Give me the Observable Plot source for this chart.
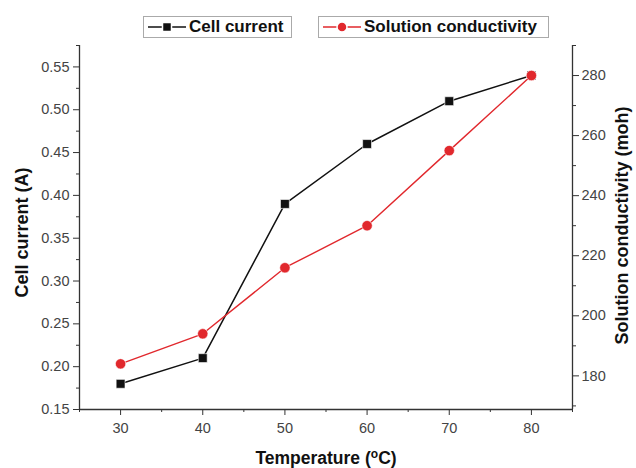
<!DOCTYPE html>
<html>
<head>
<meta charset="utf-8">
<script src="https://cdn.jsdelivr.net/npm/d3@7"></script>
<script src="https://cdn.jsdelivr.net/npm/@observablehq/plot@0.6"></script>
<style>
  body { margin: 0; background: #fff; font-family: "Liberation Sans", Arial, sans-serif; }
  #wrap { width: 636px; }
  #legend { position: relative; width: 636px; height: 42px; }
  .lg { position: absolute; top: 16px; height: 22px; border: 1px solid #aaa; background: #fff;
        display: flex; align-items: center; box-sizing: border-box; font-weight: bold; font-size: 17px; color: #111; }
  .lg svg { margin: 0 3px 0 4px; }
</style>
</head>
<body>
<div id="wrap">
  <div id="legend"></div>
  <div id="chart"></div>
</div>
<script>
// ---- data ----
const temperature = [30, 40, 50, 60, 70, 80];
const cellCurrent = [0.18, 0.21, 0.39, 0.46, 0.51, 0.54];
const conductivity = [184, 194, 216, 230, 255, 280];

const xTicks = [30, 40, 50, 60, 70, 80];
const xMinorTicks = [25, 35, 45, 55, 65, 75, 85];
const leftTicks = [0.15, 0.20, 0.25, 0.30, 0.35, 0.40, 0.45, 0.50, 0.55];
const leftMinorTicks = [0.175, 0.225, 0.275, 0.325, 0.375, 0.425, 0.475, 0.525, 0.575];
const rightTicks = [180, 200, 220, 240, 260, 280];
const rightMinorTicks = [170, 190, 210, 230, 250, 270, 290];

const seriesNames = ["Cell current", "Solution conductivity"];
const xTitle = "Temperature (oC)";
const leftTitle = "Cell current (A)";
const rightTitle = "Solution conductivity (moh)";

// ---- scales ----
const xDomain = [25, 85];
const leftDomain = [0.15, 0.575];
const rightDomain = [168.8, 290];
const toLeft = d3.scaleLinear(rightDomain, leftDomain);

const black = "#111111";
const red = "#e1282d";
const axisColor = "#333333";
const tickText = "#444444";

const currentData = temperature.map((t, i) => ({t, v: cellCurrent[i]}));
const condData = temperature.map((t, i) => ({t, v: toLeft(conductivity[i])}));

const fontFamily = "'Liberation Sans', Arial, sans-serif";

const chart = Plot.plot({
  width: 636,
  height: 426,
  marginLeft: 79,
  marginRight: 64,
  marginTop: 3,
  marginBottom: 59,
  x: {domain: xDomain, axis: null},
  y: {domain: leftDomain, axis: null},
  style: {fontFamily, background: "white", overflow: "visible"},
  marks: [
    // axis lines
    Plot.ruleY([leftDomain[0]], {stroke: axisColor, strokeWidth: 1.3}),
    Plot.ruleX([xDomain[0]], {stroke: axisColor, strokeWidth: 1.3}),
    Plot.ruleX([xDomain[1]], {stroke: axisColor, strokeWidth: 1.3}),
    // x axis
    Plot.axisX(xTicks, {anchor: "bottom", tickSize: 6, tickPadding: 7, fontSize: 14.5, color: tickText, stroke: axisColor, label: null}),
    Plot.axisX(xMinorTicks, {anchor: "bottom", tickSize: 3, tickFormat: () => "", stroke: axisColor, label: null}),
    // left axis
    Plot.axisY(leftTicks, {anchor: "left", tickSize: 6, tickPadding: 4, fontSize: 14.5, color: tickText, stroke: axisColor, tickFormat: d3.format(".2f"), label: null}),
    Plot.axisY(leftMinorTicks, {anchor: "left", tickSize: 3, tickFormat: () => "", stroke: axisColor, label: null}),
    // right axis
    Plot.axisY(rightTicks.map(toLeft), {anchor: "right", tickSize: 6, tickPadding: 3, fontSize: 14.5, color: tickText, stroke: axisColor, tickFormat: d => Math.round(toLeft.invert(d)), label: null}),
    Plot.axisY(rightMinorTicks.map(toLeft), {anchor: "right", tickSize: 3, tickFormat: () => "", stroke: axisColor, label: null}),
    // titles
    Plot.text([xTitle], {frameAnchor: "bottom", dy: 49, textAnchor: "middle", lineAnchor: "middle", fontSize: 17.5, fontWeight: "bold", fill: "#111"}),
    Plot.text([leftTitle], {frameAnchor: "left", dx: -57, dy: 5, rotate: -90, textAnchor: "middle", lineAnchor: "middle", fontSize: 18, fontWeight: "bold", fill: "#111"}),
    Plot.text([rightTitle], {frameAnchor: "right", dx: 50, dy: -2, rotate: -90, textAnchor: "middle", lineAnchor: "middle", fontSize: 18, fontWeight: "bold", fill: "#111"}),
    // series
    Plot.line(currentData, {x: "t", y: "v", stroke: black, strokeWidth: 1.5}),
    Plot.dot(currentData, {x: "t", y: "v", symbol: "square", r: 5, fill: black, stroke: "white", strokeWidth: 0.6}),
    Plot.line(condData, {x: "t", y: "v", stroke: red, strokeWidth: 1.4}),
    Plot.dot(condData, {x: "t", y: "v", symbol: "circle", r: 5.2, fill: red, stroke: "white", strokeWidth: 0.6})
  ]
});
document.getElementById("chart").appendChild(chart);

// superscript o in the x title
chart.querySelectorAll("text").forEach(el => {
  if (el.textContent === xTitle) {
    const ns = "http://www.w3.org/2000/svg";
    el.textContent = "";
    const a = document.createElementNS(ns, "tspan"); a.textContent = "Temperature (";
    const b = document.createElementNS(ns, "tspan"); b.textContent = "o"; b.setAttribute("dy", "-6"); b.setAttribute("font-size", "12");
    const c = document.createElementNS(ns, "tspan"); c.textContent = "C)"; c.setAttribute("dy", "6");
    el.append(a, b, c);
  }
});

// legend
const legend = d3.select("#legend");
const items = [
  {name: seriesNames[0], color: black, left: 143, width: 149, shape: "square"},
  {name: seriesNames[1], color: red, left: 318, width: 231, shape: "circle"}
];
items.forEach(it => {
  const box = legend.append("div").attr("class", "lg").style("left", it.left + "px").style("width", it.width + "px");
  const s = box.append("svg").attr("width", 38).attr("height", 14);
  s.append("line").attr("x1", 0).attr("x2", 38).attr("y1", 7).attr("y2", 7).attr("stroke", it.color).attr("stroke-width", 1.5);
  if (it.shape === "square") {
    s.append("rect").attr("x", 14.5).attr("y", 2.5).attr("width", 9).attr("height", 9).attr("fill", it.color).attr("stroke", "white").attr("stroke-width", 1.5);
  } else {
    s.append("circle").attr("cx", 19).attr("cy", 7).attr("r", 5).attr("fill", it.color).attr("stroke", "white").attr("stroke-width", 1.5);
  }
  box.append("span").text(it.name);
});
</script>
</body>
</html>
